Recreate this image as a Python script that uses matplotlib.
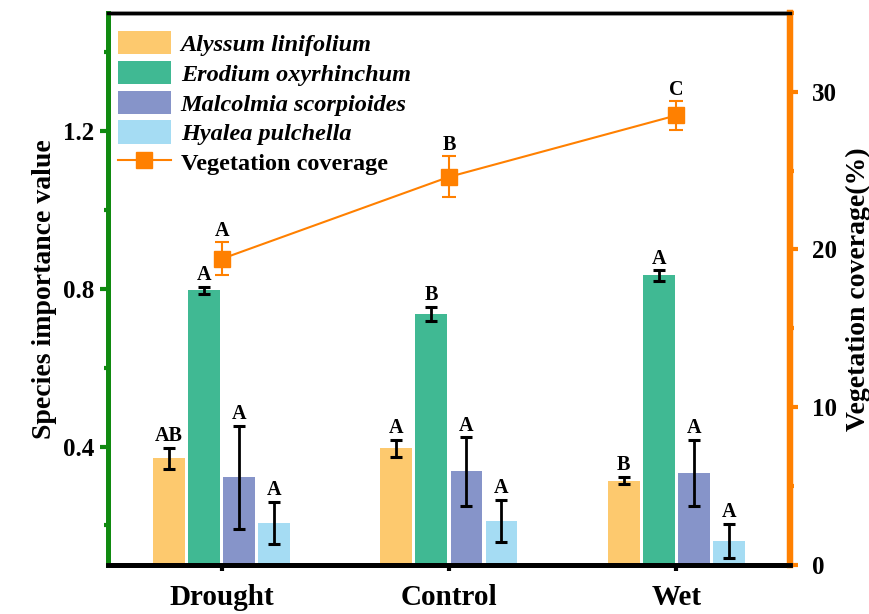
import numpy as np
import matplotlib
matplotlib.use('Agg')
import matplotlib.pyplot as plt
from matplotlib.lines import Line2D
from matplotlib.patches import Patch

plt.rcParams['font.family'] = ['Liberation Serif', 'DejaVu Serif']
plt.rcParams['font.weight'] = 'bold'

groups = ['Drought', 'Control', 'Wet']
species = ['Alyssum linifolium', 'Erodium oxyrhinchum',
           'Malcolmia scorpioides', 'Hyalea pulchella']
colors = ['#FDC96E', '#40B993', '#8694C9', '#A5DCF3']

# species importance value, rows = species, cols = groups
siv = [[0.370, 0.396, 0.314],
       [0.796, 0.737, 0.834],
       [0.322, 0.337, 0.334],
       [0.207, 0.212, 0.161]]
siv_err = [[0.027, 0.022, 0.010],
           [0.010, 0.018, 0.013],
           [0.131, 0.087, 0.084],
           [0.053, 0.053, 0.043]]
siv_letters = [['AB', 'A', 'B'],
               ['A', 'B', 'A'],
               ['A', 'A', 'A'],
               ['A', 'A', 'A']]

coverage = [19.4, 24.6, 28.5]
coverage_err = [1.05, 1.3, 0.9]
coverage_letters = ['A', 'B', 'C']

orange = '#FF8000'
green = '#108A10'

fig = plt.figure(figsize=(8.7, 6.14), dpi=100)
ax = fig.add_axes([0.124, 0.080, 0.784, 0.899])
ax2 = ax.twinx()

x = np.arange(1, len(groups) + 1)
width = 0.14
pitch = 0.154
for i in range(len(species)):
    xs = x + (i - 1.5) * pitch
    ax.bar(xs, siv[i], width, color=colors[i], edgecolor='none', zorder=2)
    ax.errorbar(xs, siv[i], yerr=siv_err[i], fmt='none', ecolor='black',
                elinewidth=2, capsize=4.5, capthick=2.2, zorder=3)
    for xx, v, e, t in zip(xs, siv[i], siv_err[i], siv_letters[i]):
        ax.annotate(t, (xx, v + e), xytext=(0, 1), textcoords='offset points',
                    ha='center', va='bottom', fontsize=14.5, fontweight='bold')

ax2.errorbar(x, coverage, yerr=coverage_err, color=orange, lw=1.5,
             marker='s', markersize=11, ecolor=orange, elinewidth=1.5,
             capsize=5, capthick=1.5, zorder=4)
for xx, v, e, t in zip(x, coverage, coverage_err, coverage_letters):
    ax2.annotate(t, (xx, v + e), xytext=(0, 1), textcoords='offset points',
                 ha='center', va='bottom', fontsize=14.5, fontweight='bold')

ax.set_xlim(0.5, 3.5)
ax.set_ylim(0.1, 1.5)
ax2.set_ylim(0, 35)

ax.set_xticks(x)
ax.set_xticklabels(groups, fontsize=21, fontweight='bold')
ax.set_yticks([0.4, 0.8, 1.2])
ax.set_yticks([0.2, 0.6, 1.0, 1.4], minor=True)
ax.set_yticklabels(['0.4', '0.8', '1.2'], fontsize=18, fontweight='bold')
ax2.set_yticks([0, 10, 20, 30])
ax2.set_yticks([5, 15, 25, 35], minor=True)
ax2.set_yticklabels(['0', '10', '20', '30'], fontsize=18, fontweight='bold')

ax.set_ylabel('Species importance value', fontsize=20, fontweight='bold', labelpad=4)
ax2.set_ylabel('Vegetation coverage(%)', fontsize=20, fontweight='bold', labelpad=6)

ax.tick_params(axis='x', direction='out', length=4, width=3, pad=10)
ax.tick_params(axis='y', which='major', direction='out', length=6, width=3,
               color=green, pad=4)
ax.tick_params(axis='y', which='minor', direction='out', length=3, width=3, color=green)
ax2.tick_params(axis='y', which='major', direction='out', length=6, width=3,
                color=orange, pad=10)
ax2.tick_params(axis='y', which='minor', direction='out', length=3, width=3, color=orange)

for a in (ax, ax2):
    a.spines['top'].set_linewidth(2.5)
    a.spines['bottom'].set_linewidth(3.5)
    a.spines['left'].set_linewidth(3.5)
    a.spines['right'].set_linewidth(4.5)
    a.spines['left'].set_color(green)
    a.spines['right'].set_color(orange)

handles = [Patch(facecolor=c, edgecolor='none') for c in colors]
handles.append(Line2D([], [], color=orange, lw=1.5, marker='s', markersize=11))
labels = species + ['Vegetation coverage']
leg = ax2.legend(handles, labels, loc='upper left', bbox_to_anchor=(0.007, 0.976),
                 frameon=False, fontsize=17.5, handlelength=2.2, handleheight=1.1,
                 labelspacing=0.2, handletextpad=0.4,
                 borderaxespad=0, borderpad=0.2)
for t in leg.get_texts()[:4]:
    t.set_fontstyle('italic')

fig.savefig('out.png', dpi=100)
